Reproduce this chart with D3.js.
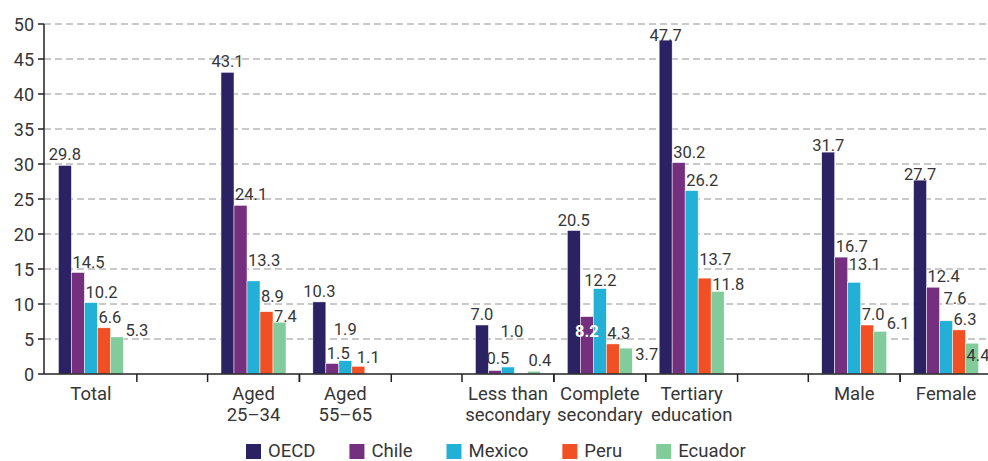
<!DOCTYPE html>
<html>
<head>
<meta charset="utf-8">
<script src="https://cdnjs.cloudflare.com/ajax/libs/d3/7.8.5/d3.min.js"></script>
<style>
  html, body { margin: 0; padding: 0; background: #fff; }
  svg { display: block; }
  text { font-family: Roboto, "Liberation Sans", sans-serif; fill: #363636; }
</style>
</head>
<body>
<div id="chart"></div>
<script>
var categories = ['Total', 'Aged 25–34', 'Aged 55–65', 'Less than secondary',
  'Complete secondary', 'Tertiary education', 'Male', 'Female'];
var categoryLines = [['Total'], ['Aged', '25–34'], ['Aged', '55–65'], ['Less than', 'secondary'],
  ['Complete', 'secondary'], ['Tertiary', 'education'], ['Male'], ['Female']];
var series = ['OECD', 'Chile', 'Mexico', 'Peru', 'Ecuador'];
var oecd = [29.8, 43.1, 10.3, 7.0, 20.5, 47.7, 31.7, 27.7];
var chile = [14.5, 24.1, 1.5, 0.5, 8.2, 30.2, 16.7, 12.4];
var mexico = [10.2, 13.3, 1.9, 1.0, 12.2, 26.2, 13.1, 7.6];
var peru = [6.6, 8.9, 1.1, null, 4.3, 13.7, 7.0, 6.3];
var ecuador = [5.3, 7.4, null, 0.4, 3.7, 11.8, 6.1, 4.4];
var yTicks = [0, 5, 10, 15, 20, 25, 30, 35, 40, 45, 50];

var colors = {
  OECD: '#2a2262',
  Chile: '#74307f',
  Mexico: '#22b0d6',
  Peru: '#f15025',
  Ecuador: '#82cc9b'
};

var W = 988, H = 461;
var GAP = 0.77;           // empty slot width, in category units
var gapAfter = [0, 2, 5]; // empty slot after these categories

// hand placed labels in the original (dx, dy)
var labelNudge = {
  '0|Ecuador': [14, 4],
  '1|Mexico': [0, -10],
  '1|Peru': [0, -5],
  '1|Ecuador': [0, 5],
  '2|Mexico': [-6, -21],
  '2|Peru': [4, 2],
  '3|Chile': [-3, -2],
  '3|Mexico': [-2, -25],
  '4|Mexico': [-10, 2],
  '4|Ecuador': [15, 17],
  '5|OECD': [0, 6],
  '5|Peru': [0, -8],
  '5|Ecuador': [0, 4],
  '6|OECD': [0, 4],
  '6|Mexico': [0, -7],
  '6|Ecuador': [12, 3],
  '7|OECD': [0, 5],
  '7|Mexico': [3, -12],
  '7|Ecuador': [0, 23]
};

var valuesBySeries = { OECD: oecd, Chile: chile, Mexico: mexico, Peru: peru, Ecuador: ecuador };

// slot start of each category, in units
var slotStart = categories.map(function (c, i) {
  var gaps = gapAfter.filter(function (g) { return g < i; }).length;
  return i + gaps * GAP;
});
var totalUnits = categories.length + gapAfter.length * GAP;

var svg = d3.select('#chart').append('svg')
  .attr('width', W)
  .attr('height', H);

var x = d3.scaleLinear().domain([0, totalUnits]).range([45, 992]);
var y = d3.scaleLinear().domain([0, 50]).range([374, 24]);
var inner = d3.scaleBand().domain(series).range([-32.5, 32.5]);

function center(i) {
  return x(slotStart[i] + 0.5);
}

// grid
svg.append('g')
  .selectAll('line')
  .data(yTicks.filter(function (t) { return t > 0; }))
  .enter()
  .append('line')
  .attr('x1', 44)
  .attr('x2', W)
  .attr('y1', function (d) { return y(d); })
  .attr('y2', function (d) { return y(d); })
  .attr('stroke', '#b8b8b8')
  .attr('stroke-width', 1.5)
  .attr('stroke-dasharray', '7,4');

// bars
var cells = [];
categories.forEach(function (c, i) {
  series.forEach(function (s) {
    var v = valuesBySeries[s][i];
    if (v !== null) {
      cells.push({ i: i, s: s, v: v });
    }
  });
});

svg.append('g')
  .selectAll('rect')
  .data(cells)
  .enter()
  .append('rect')
  .attr('x', function (d) { return center(d.i) + inner(d.s); })
  .attr('y', function (d) { return y(d.v); })
  .attr('width', inner.bandwidth())
  .attr('height', function (d) { return y(0) - y(d.v); })
  .attr('fill', function (d) { return colors[d.s]; })
  .attr('stroke', '#fff')
  .attr('stroke-width', 0.5);

// value labels
svg.append('g')
  .selectAll('text')
  .data(cells)
  .enter()
  .append('text')
  .text(function (d) { return d.v.toFixed(1); })
  .each(function (d) {
    var left = center(d.i) + inner(d.s);
    var n = labelNudge[d.i + '|' + d.s] || [0, 0];
    var el = d3.select(this).attr('font-size', '16.5px');
    if (d.i === 4 && d.s === 'Chile') {
      // white bold label sitting on the bar
      el.attr('x', left + inner.bandwidth() / 2)
        .attr('y', y(d.v) + 20)
        .attr('text-anchor', 'middle')
        .attr('font-weight', 'bold')
        .style('fill', '#fff');
      return;
    }
    if (d.s === 'OECD') {
      el.attr('x', left + inner.bandwidth() / 2 + n[0]).attr('text-anchor', 'middle');
    } else {
      el.attr('x', left + 1 + n[0]).attr('text-anchor', 'start');
    }
    el.attr('y', y(d.v) - 5 + n[1]);
  });

// y axis
svg.append('line')
  .attr('x1', 44).attr('x2', 44)
  .attr('y1', y(50)).attr('y2', y(0))
  .attr('stroke', '#222')
  .attr('stroke-width', 1.5);

svg.append('g')
  .selectAll('line')
  .data(yTicks)
  .enter()
  .append('line')
  .attr('x1', 38).attr('x2', 44)
  .attr('y1', function (d) { return y(d); })
  .attr('y2', function (d) { return y(d); })
  .attr('stroke', '#222')
  .attr('stroke-width', 1.5);

svg.append('g')
  .selectAll('text')
  .data(yTicks)
  .enter()
  .append('text')
  .text(function (d) { return d; })
  .attr('x', 34)
  .attr('y', function (d) { return y(d) + 6.5; })
  .attr('text-anchor', 'end')
  .attr('font-size', '18px');

// x axis
svg.append('line')
  .attr('x1', 44).attr('x2', W)
  .attr('y1', y(0)).attr('y2', y(0))
  .attr('stroke', '#222')
  .attr('stroke-width', 1.5);

var bounds = [];
slotStart.forEach(function (s) {
  bounds.push(s, s + 1);
});
bounds = bounds.filter(function (b, k) { return k > 0; });

svg.append('g')
  .selectAll('line')
  .data(bounds)
  .enter()
  .append('line')
  .attr('x1', function (d) { return x(d); })
  .attr('x2', function (d) { return x(d); })
  .attr('y1', y(0))
  .attr('y2', y(0) + 8)
  .attr('stroke', '#222')
  .attr('stroke-width', 1.5);

var catText = svg.append('g')
  .selectAll('text')
  .data(categoryLines)
  .enter()
  .append('text')
  .attr('text-anchor', 'middle')
  .attr('font-size', '18.5px');

catText.selectAll('tspan')
  .data(function (d, i) {
    return d.map(function (line) { return { line: line, i: i }; });
  })
  .enter()
  .append('tspan')
  .attr('x', function (d) { return center(d.i); })
  .attr('y', function (d, k) { return 400 + k * 21; })
  .text(function (d) { return d.line; });

// legend
var lx = 246;
series.forEach(function (s) {
  svg.append('rect')
    .attr('x', lx)
    .attr('y', 444)
    .attr('width', 15)
    .attr('height', 15)
    .attr('fill', colors[s]);
  var t = svg.append('text')
    .attr('x', lx + 22)
    .attr('y', 457)
    .attr('font-size', '18.5px')
    .text(s);
  lx += 22 + t.node().getComputedTextLength() + 34;
});
</script>
</body>
</html>
